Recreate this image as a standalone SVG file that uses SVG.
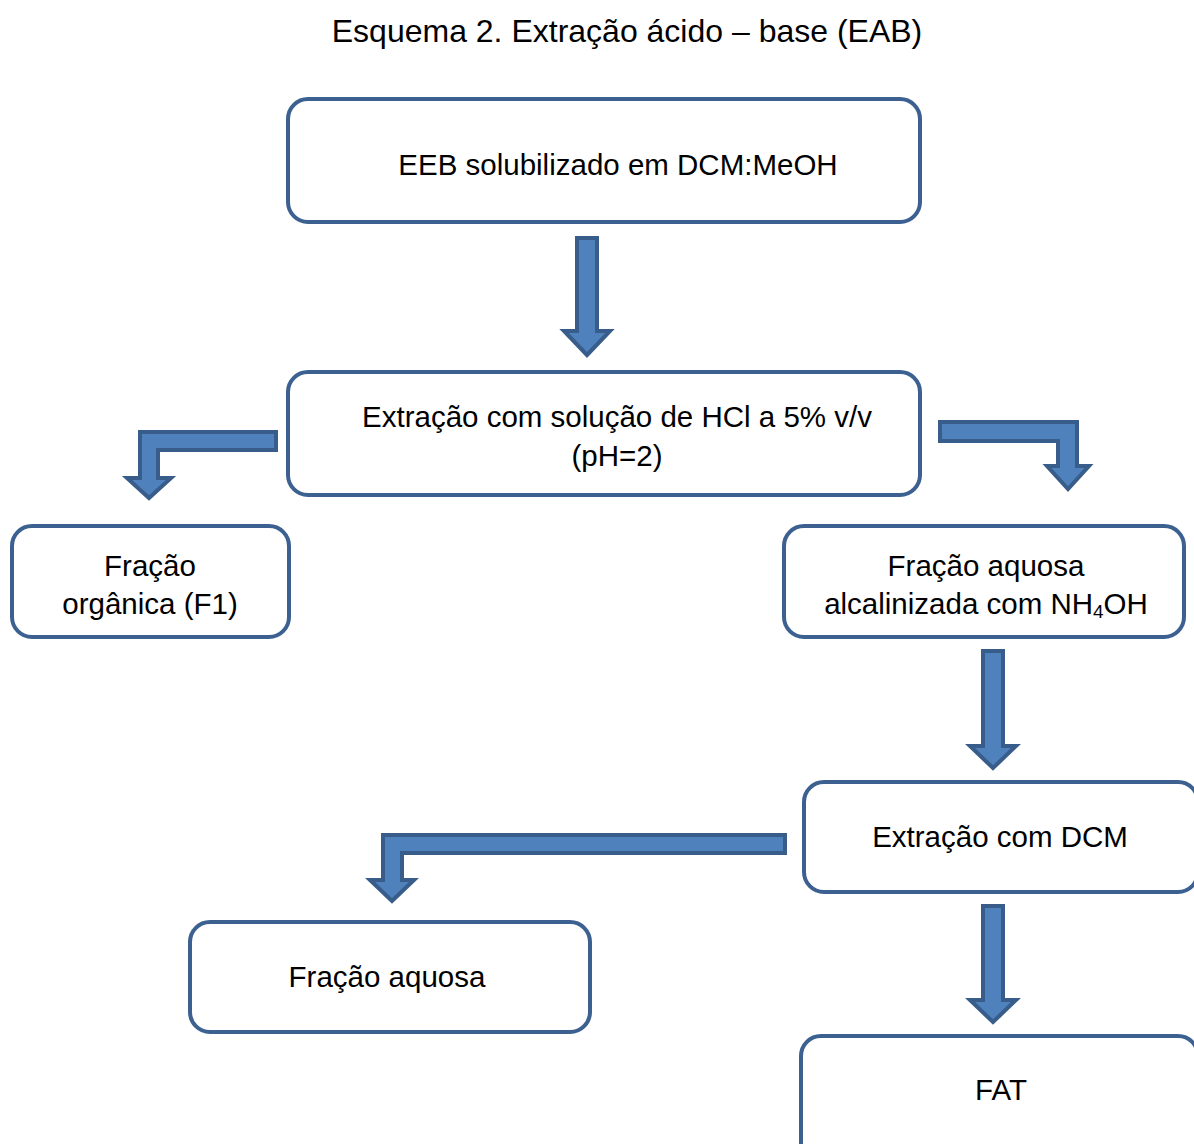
<svg xmlns="http://www.w3.org/2000/svg" width="1194" height="1144" viewBox="0 0 1194 1144">
<style>
.box{fill:#fff;stroke:#3c6191;stroke-width:4}
.arr{fill:#4f81bd;stroke:#385d8a;stroke-width:4;stroke-linejoin:miter}
text{font-family:"Liberation Sans",Arial,sans-serif;font-size:29.5px;fill:#000;text-anchor:middle}
.title{font-size:32px}
</style>
<rect width="1194" height="1144" fill="#fff"/>
<text class="title" x="627" y="42">Esquema 2. Extração ácido – base (EAB)</text>
<g id="connectors">
<polygon class="arr" points="577,238 597,238 597,331 610,331 587,355 564,331 577,331"/>
<polygon class="arr" points="276,432 276,450 158,450 158,478 171,478 149,498 127,478 140,478 140,432"/>
<polygon class="arr" points="940,422 1077,422 1077,466 1089,466 1068,489 1047,466 1058,466 1058,441 940,441"/>
<polygon class="arr" points="983,651 1003,651 1003,746 1016,746 993,768 970,746 983,746"/>
<polygon class="arr" points="785,835 785,853 402,853 402,880 414,880 392,901 370,880 383,880 383,835"/>
<polygon class="arr" points="983,906 1003,906 1003,1000 1016,1000 993,1022 970,1000 983,1000"/>
</g>
<g id="n1"><rect class="box" x="288" y="99" width="632" height="123" rx="20"/><text x="618" y="175">EEB solubilizado em DCM:MeOH</text></g>
<g id="n2"><rect class="box" x="288" y="372" width="632" height="123" rx="20"/><text x="617" y="427">Extração com solução de HCl a 5% v/v</text><text x="617" y="466">(pH=2)</text></g>
<g id="n3"><rect class="box" x="12" y="526" width="277" height="111" rx="20"/><text x="150" y="576">Fração</text><text x="150" y="614">orgânica (F1)</text></g>
<g id="n4"><rect class="box" x="784" y="526" width="400" height="111" rx="20"/><text x="986" y="576">Fração aquosa</text><text x="986" y="614">alcalinizada com NH<tspan font-size="19" dy="4">4</tspan><tspan dy="-4">OH</tspan></text></g>
<g id="n5"><rect class="box" x="804" y="782" width="394" height="110" rx="20"/><text x="1000" y="847">Extração com DCM</text></g>
<g id="n6"><rect class="box" x="190" y="922" width="400" height="110" rx="20"/><text x="387" y="987">Fração aquosa</text></g>
<g id="n7"><rect class="box" x="801" y="1036" width="397" height="130" rx="20"/><text x="1001" y="1100">FAT</text></g>
</svg>
